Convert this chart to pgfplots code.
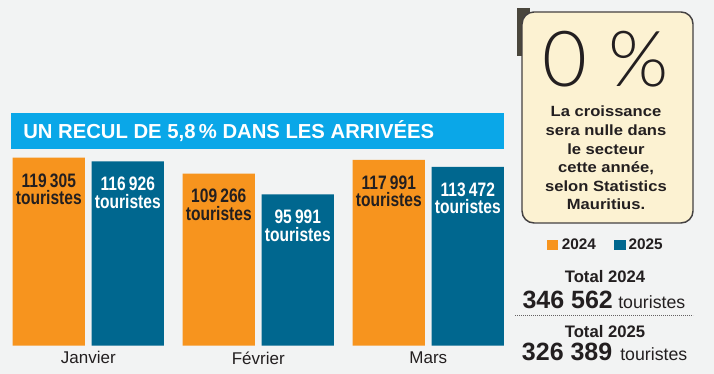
\documentclass[border=0pt]{standalone}
\usepackage{pgfplots}
\pgfplotsset{compat=1.18}
\usepackage{fontspec}
\setmainfont{Liberation Sans}
\newfontfamily\condfont{Liberation Sans}[FakeStretch=0.8]
\newfontfamily\widefont{Liberation Sans}[FakeStretch=1.12]
\newfontfamily\thinfont{Lato Light}
\definecolor{bg}{HTML}{F2F3F3}
\definecolor{orangeb}{HTML}{F7941E}
\definecolor{blueb}{HTML}{00678F}
\definecolor{banner}{HTML}{0AA7E8}
\definecolor{cream}{HTML}{FCF2D2}
\definecolor{ink}{HTML}{231F20}
\definecolor{photo}{HTML}{4A463C}
\begin{document}
\begin{tikzpicture}[x=0.75pt,y=0.75pt]
\useasboundingbox (0,0) rectangle (714,374);
\fill[bg] (0,0) rectangle (714,374);
\fill[banner] (11,225) rectangle (504,261);
\node[anchor=west, inner sep=0, text=white, font=\bfseries\fontsize{15.2}{16}\selectfont] at (23,243) {UN RECUL DE 5,8\,\% DANS LES ARRIVÉES};

\begin{axis}[at={(0pt,21.225pt)}, anchor=south west, scale only axis,
  width=390pt, height=259.3pt,
  xmin=-0.5194, xmax=2.5394, ymin=0, ymax=219400,
  ybar, bar width=0.425,
  axis line style={draw=none}, tick style={draw=none}, ytick=\empty,
  xtick={0,1,2}, xticklabels={Janvier,Février,Mars},
  x tick label style={font=\fontsize{12.75}{14}\selectfont, text=ink, inner sep=0pt, yshift=0pt},
  clip=false,
  nodes near coords={\pgfmathprintnumber[fixed, precision=0, 1000 sep={\,}, assume math mode=true]{\pgfplotspointmeta}\\[-0.6pt]touristes},
  every node near coord/.append style={anchor=north, align=center, inner sep=0pt, yshift=-11.6pt,
    font=\condfont\bfseries\fontsize{14.6}{13.7}\selectfont},
]
\addplot[fill=orangeb, draw=none, bar shift=-0.2323,
  every node near coord/.append style={text=ink}]
  coordinates {(0,119305) (1,109266) (2,117991)};
\addplot[fill=blueb, draw=none, bar shift=0.2323,
  every node near coord/.append style={text=white}]
  coordinates {(0,116926) (1,95991) (2,113472)};
\end{axis}

% side panel
\fill[photo] (517,366) rectangle (530,318);
\filldraw[fill=cream, draw=ink!85, line width=1.1pt, rounded corners=9pt] (522,362) rectangle (693,151);
\node[anchor=base, inner sep=0, text=ink, font=\thinfont\fontsize{58}{58}\selectfont] at (605.5,287) {0 \%};
\begin{scope}[every node/.style={anchor=base, inner sep=0, text=ink, font=\widefont\bfseries\fontsize{11.1}{13}\selectfont}]
\node at (606,257) {La croissance};
\node at (606,238.4) {sera nulle dans};
\node at (606,219.8) {le secteur};
\node at (606,201.2) {cette année,};
\node at (606,182.6) {selon Statistics};
\node at (606,164) {Mauritius.};
\end{scope}

% legend
\fill[orangeb] (546.7,134.3) rectangle (558.3,124.3);
\node[anchor=base west, inner sep=0, text=ink, font=\bfseries\fontsize{11.5}{13}\selectfont] at (561.5,124.3) {2024};
\fill[blueb] (614.3,134.3) rectangle (626,124.3);
\node[anchor=base west, inner sep=0, text=ink, font=\bfseries\fontsize{11.5}{13}\selectfont] at (628.3,124.3) {2025};

% totals
\node[anchor=base, inner sep=0, text=ink, font=\bfseries\fontsize{12.5}{14}\selectfont] at (605,91) {Total 2024};
\node[anchor=base west, inner sep=0, text=ink, font=\bfseries\fontsize{18.75}{20}\selectfont] at (522.3,65.5) {346 562};
\node[anchor=base west, inner sep=0, text=ink, font=\fontsize{13.3}{15}\selectfont] at (618,65.5) {touristes};
\draw[ink!70, line width=0.6pt, dash pattern=on 0.6pt off 0.9pt] (515,59) -- (693,59);
\node[anchor=base, inner sep=0, text=ink, font=\bfseries\fontsize{12.5}{14}\selectfont] at (605,36.5) {Total 2025};
\node[anchor=base west, inner sep=0, text=ink, font=\bfseries\fontsize{18.75}{20}\selectfont] at (521.7,13) {326 389};
\node[anchor=base west, inner sep=0, text=ink, font=\fontsize{13.3}{15}\selectfont] at (620,13) {touristes};
\end{tikzpicture}
\end{document}
